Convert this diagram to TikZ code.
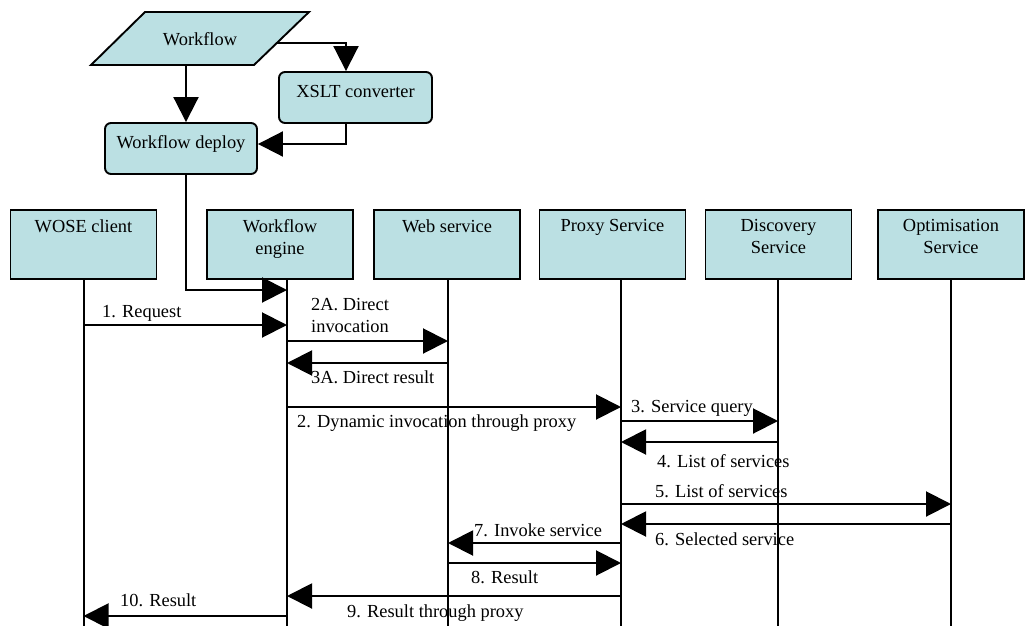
\documentclass[tikz,border=0pt]{standalone}
\usepackage{fontspec}
\setmainfont{Liberation Serif}
\usetikzlibrary{arrows.meta}
\definecolor{boxfill}{RGB}{187,224,227}
\begin{document}
\begin{tikzpicture}[x=1pt,y=-1pt,
  every node/.style={font=\fontsize{18.4}{21.5}\selectfont},
  hbox/.style={draw=black, line width=1.9pt, fill=boxfill, minimum width=146pt, minimum height=69pt, inner sep=0pt},
  htext/.style={anchor=north, align=center, inner sep=0pt},
  rbox/.style={draw=black, line width=1.9pt, fill=boxfill, rounded corners=6pt, minimum height=51pt, text height=12pt, text depth=12pt, inner sep=0pt},
  life/.style={line width=2pt},
  msg/.style={line width=2pt, -{Triangle[length=25pt,width=25pt]}},
  lbl/.style={anchor=west, inner sep=0pt, text height=12pt, text depth=4pt},
]
\useasboundingbox (0,0) rectangle (1028,626);

% top part
\filldraw[fill=boxfill, draw=black, line width=1.9pt] (91,65) -- (254,65) -- (309,12) -- (145,12) -- cycle;
\node[inner sep=0pt] (wf) at (200,39) {Workflow};
\node[rbox, minimum width=153pt] (xslt) at (355.5,97.5) {XSLT converter};
\node[rbox, minimum width=152pt] (deploy) at (181,148.5) {Workflow deploy};

\coordinate (a1) at (186,65);
\coordinate (a2) at (277,43);
\coordinate (a2b) at (346,43);
\coordinate (a3b) at (346,144);
\coordinate (a4) at (186,290);

% header boxes
\node[hbox] (wose) at (83.5,244.5) {};
\node[htext] (woseT) at ([yshift=-10.5pt]wose.north) {WOSE client};
\node[hbox] (engine) at (280,244.5) {};
\node[htext] (engineT) at ([yshift=-10.5pt]engine.north) {Workflow\\engine};
\node[hbox] (web) at (447,244.5) {};
\node[htext] (webT) at ([yshift=-10.5pt]web.north) {Web service};
\node[hbox] (proxy) at (612.5,244.5) {};
\node[htext] (proxyT) at ([yshift=-10.5pt]proxy.north) {Proxy Service};
\node[hbox] (disc) at (778.5,244.5) {};
\node[htext] (discT) at ([yshift=-10.5pt]disc.north) {Discovery\\Service};
\node[hbox] (opt) at (951,244.5) {};
\node[htext] (optT) at ([yshift=-10.5pt]opt.north) {Optimisation\\Service};

% lifelines
\coordinate (woseL) at (wose.south);
\coordinate (engL) at (287,279);
\coordinate (webL) at (448,279);
\coordinate (proxyL) at (621,279);
\coordinate (discL) at (778,279);
\coordinate (optL) at (951,279);
\coordinate (bot) at (0,626);
\foreach \l in {woseL,engL,webL,proxyL,discL,optL}
  \draw[life] (\l) -- (\l |- bot);

% top connectors
\draw[msg] (a1) -- (a1 |- deploy.north);
\draw[msg] (a2) -- (a2b) -- (a2b |- xslt.north);
\draw[msg] (a3b |- xslt.south) -- (a3b) -- (deploy.east |- a3b);
\draw[msg] (a4 |- deploy.south) -- (a4) -- (engL |- a4);

% messages
\draw[msg] (woseL |- 0,325) -- (engL |- 0,325);
\draw[msg] (engL |- 0,341) -- (webL |- 0,341);
\draw[msg] (webL |- 0,363) -- (engL |- 0,363);
\draw[msg] (engL |- 0,407) -- (proxyL |- 0,407);
\draw[msg] (proxyL |- 0,421) -- (discL |- 0,421);
\draw[msg] (discL |- 0,442) -- (proxyL |- 0,442);
\draw[msg] (proxyL |- 0,504) -- (optL |- 0,504);
\draw[msg] (optL |- 0,524) -- (proxyL |- 0,524);
\draw[msg] (proxyL |- 0,543) -- (webL |- 0,543);
\draw[msg] (webL |- 0,563) -- (proxyL |- 0,563);
\draw[msg] (proxyL |- 0,596) -- (engL |- 0,596);
\draw[msg] (engL |- 0,616) -- (woseL |- 0,616);

% labels
\node[lbl] (l1) at (102,313) {1. Request};
\node[anchor=north west, align=left, inner sep=0pt] (l2a) at (311,298.5) {2A. Direct\\invocation};
\node[lbl] (l3a) at (311,379) {3A. Direct result};
\node[lbl] (l2) at (297,423) {2. Dynamic invocation through proxy};
\node[lbl] (l3) at (631,408) {3. Service query};
\node[lbl] (l4) at (657,463) {4. List of services};
\node[lbl] (l5) at (655,493) {5. List of services};
\node[lbl] (l6) at (655,541) {6. Selected service};
\node[lbl] (l7) at (474,532) {7. Invoke service};
\node[lbl] (l8) at (471,579) {8. Result};
\node[lbl] (l9) at (347,613) {9. Result through proxy};
\node[lbl] (l10) at (120,602) {10. Result};
\end{tikzpicture}
\end{document}
